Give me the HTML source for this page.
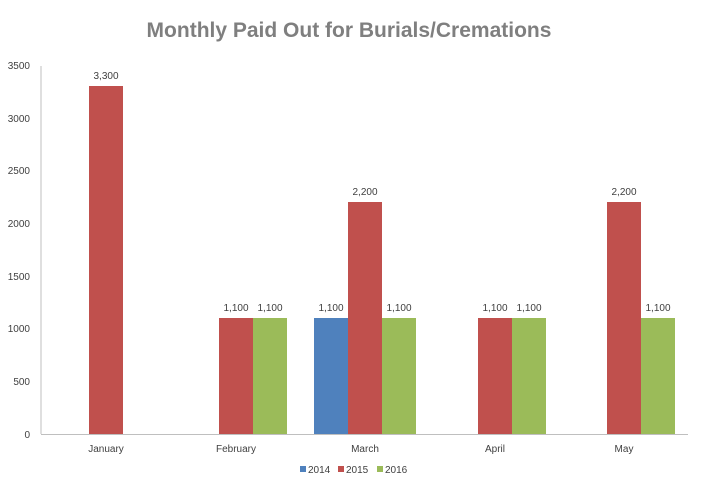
<!DOCTYPE html>
<html><head><meta charset="utf-8"><style>
html,body{margin:0;padding:0;background:#fff;}
svg{display:block;font-family:"Liberation Sans",sans-serif;}
</style></head><body>
<svg width="703" height="488" viewBox="0 0 703 488" xmlns="http://www.w3.org/2000/svg">
<text x="349" y="37" text-anchor="middle" font-size="21" font-weight="bold" fill="#7f7f7f">Monthly Paid Out for Burials/Cremations</text>
<g font-size="10" fill="#404040" text-anchor="end">
<text x="30" y="69">3500</text><text x="30" y="122">3000</text><text x="30" y="174">2500</text>
<text x="30" y="227">2000</text><text x="30" y="280">1500</text><text x="30" y="332">1000</text>
<text x="30" y="385">500</text><text x="30" y="438">0</text>
</g>
<line x1="41" y1="66" x2="41" y2="434" stroke="#bfbfbf"/>
<line x1="41" y1="434.5" x2="688" y2="434.5" stroke="#bfbfbf"/>
<g>
<rect x="89" y="86" width="34" height="348" fill="#c0504d"/>
<rect x="219" y="318" width="34" height="116" fill="#c0504d"/>
<rect x="253" y="318" width="34" height="116" fill="#9bbb59"/>
<rect x="314" y="318" width="34" height="116" fill="#4f81bd"/>
<rect x="348" y="202" width="34" height="232" fill="#c0504d"/>
<rect x="382" y="318" width="34" height="116" fill="#9bbb59"/>
<rect x="478" y="318" width="34" height="116" fill="#c0504d"/>
<rect x="512" y="318" width="34" height="116" fill="#9bbb59"/>
<rect x="607" y="202" width="34" height="232" fill="#c0504d"/>
<rect x="641" y="318" width="34" height="116" fill="#9bbb59"/>
</g>
<g font-size="10" fill="#404040" text-anchor="middle">
<text x="106" y="79">3,300</text>
<text x="236" y="311">1,100</text><text x="270" y="311">1,100</text>
<text x="331" y="311">1,100</text><text x="365" y="195">2,200</text><text x="399" y="311">1,100</text>
<text x="495" y="311">1,100</text><text x="529" y="311">1,100</text>
<text x="624" y="195">2,200</text><text x="658" y="311">1,100</text>
<text x="106" y="452">January</text><text x="236" y="452">February</text><text x="365" y="452">March</text>
<text x="495" y="452">April</text><text x="624" y="452">May</text>
</g>
<g font-size="10" fill="#404040">
<rect x="300" y="466" width="6" height="6" fill="#4f81bd"/><text x="308" y="473">2014</text>
<rect x="338" y="466" width="6" height="6" fill="#c0504d"/><text x="346" y="473">2015</text>
<rect x="377" y="466" width="6" height="6" fill="#9bbb59"/><text x="385" y="473">2016</text>
</g>
</svg>
</body></html>
